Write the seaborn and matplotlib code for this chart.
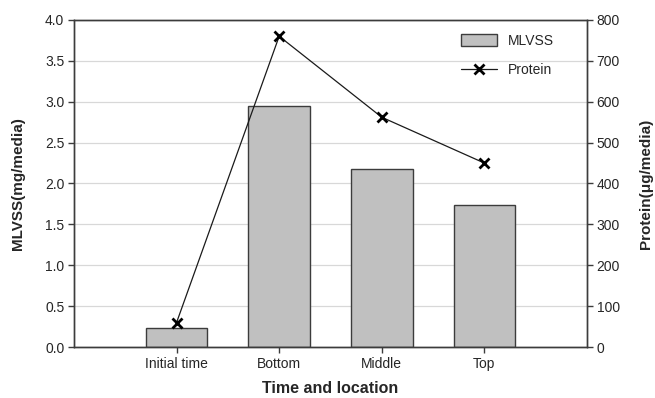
import numpy as np
import pandas as pd
import matplotlib
matplotlib.use("Agg")
import matplotlib.pyplot as plt
import seaborn as sns

# data
categories = ["Initial time", "Bottom", "Middle", "Top"]
mlvss = [0.23, 2.95, 2.18, 1.74]
protein = [60, 760, 562, 450]

sns.set_theme(style="white")
plt.rcParams["font.family"] = ["Liberation Sans", "DejaVu Sans"]

df = pd.DataFrame({"loc": categories, "mlvss": mlvss, "protein": protein})

fig, ax = plt.subplots(figsize=(6.55, 3.98), dpi=100)
fig.subplots_adjust(left=0.113, right=0.896, top=0.95, bottom=0.128)

sns.barplot(data=df, x="loc", y="mlvss", color="#c0c0c0", saturation=1,
            edgecolor="#3c3c3c", linewidth=1.0, width=0.6, ax=ax, label="MLVSS", zorder=2)
if ax.get_legend() is not None:
    ax.get_legend().remove()
ax.set_xlim(-1, 4)
ax.set_ylim(0, 4)
ax.set_yticks(np.arange(0, 4.01, 0.5))
ax.yaxis.grid(True, color="#d8d8d8", linewidth=0.9, zorder=0)
ax.set_axisbelow(True)

ax2 = ax.twinx()
sns.lineplot(x=np.arange(len(categories)), y=protein, ax=ax2, color="#1a1a1a",
             marker="x", markersize=7, markeredgewidth=2, markeredgecolor="black",
             linewidth=0.9, label="Protein")
ax2.set_ylim(0, 800)
ax2.set_yticks(np.arange(0, 801, 100))

for a in (ax, ax2):
    for s in a.spines.values():
        s.set_color("#3c3c3c")
        s.set_linewidth(1.0)
ax.tick_params(axis="both", direction="out", length=4, width=1, color="#3c3c3c",
               labelsize=10, pad=3, bottom=True, left=True)
ax2.tick_params(axis="y", direction="out", length=4, width=1, color="#3c3c3c",
                labelsize=10, pad=3, right=True)

ax.set_xlabel("Time and location", fontsize=11.5, fontweight="bold", labelpad=7)
ax.set_ylabel("MLVSS(mg/media)", fontsize=11, fontweight="bold", labelpad=14)
ax2.set_ylabel("Protein(\u03bcg/media)", fontsize=11, fontweight="bold", labelpad=14)

h1, l1 = ax.get_legend_handles_labels()
h2, l2 = ax2.get_legend_handles_labels()
if ax2.get_legend() is not None:
    ax2.get_legend().remove()
ax2.legend(h1 + h2, l1 + l2, loc="upper right", bbox_to_anchor=(0.96, 0.995),
           frameon=False, fontsize=10, handlelength=2.6, handleheight=0.9,
           labelspacing=1.1)

fig.savefig("out.png", dpi=100)
